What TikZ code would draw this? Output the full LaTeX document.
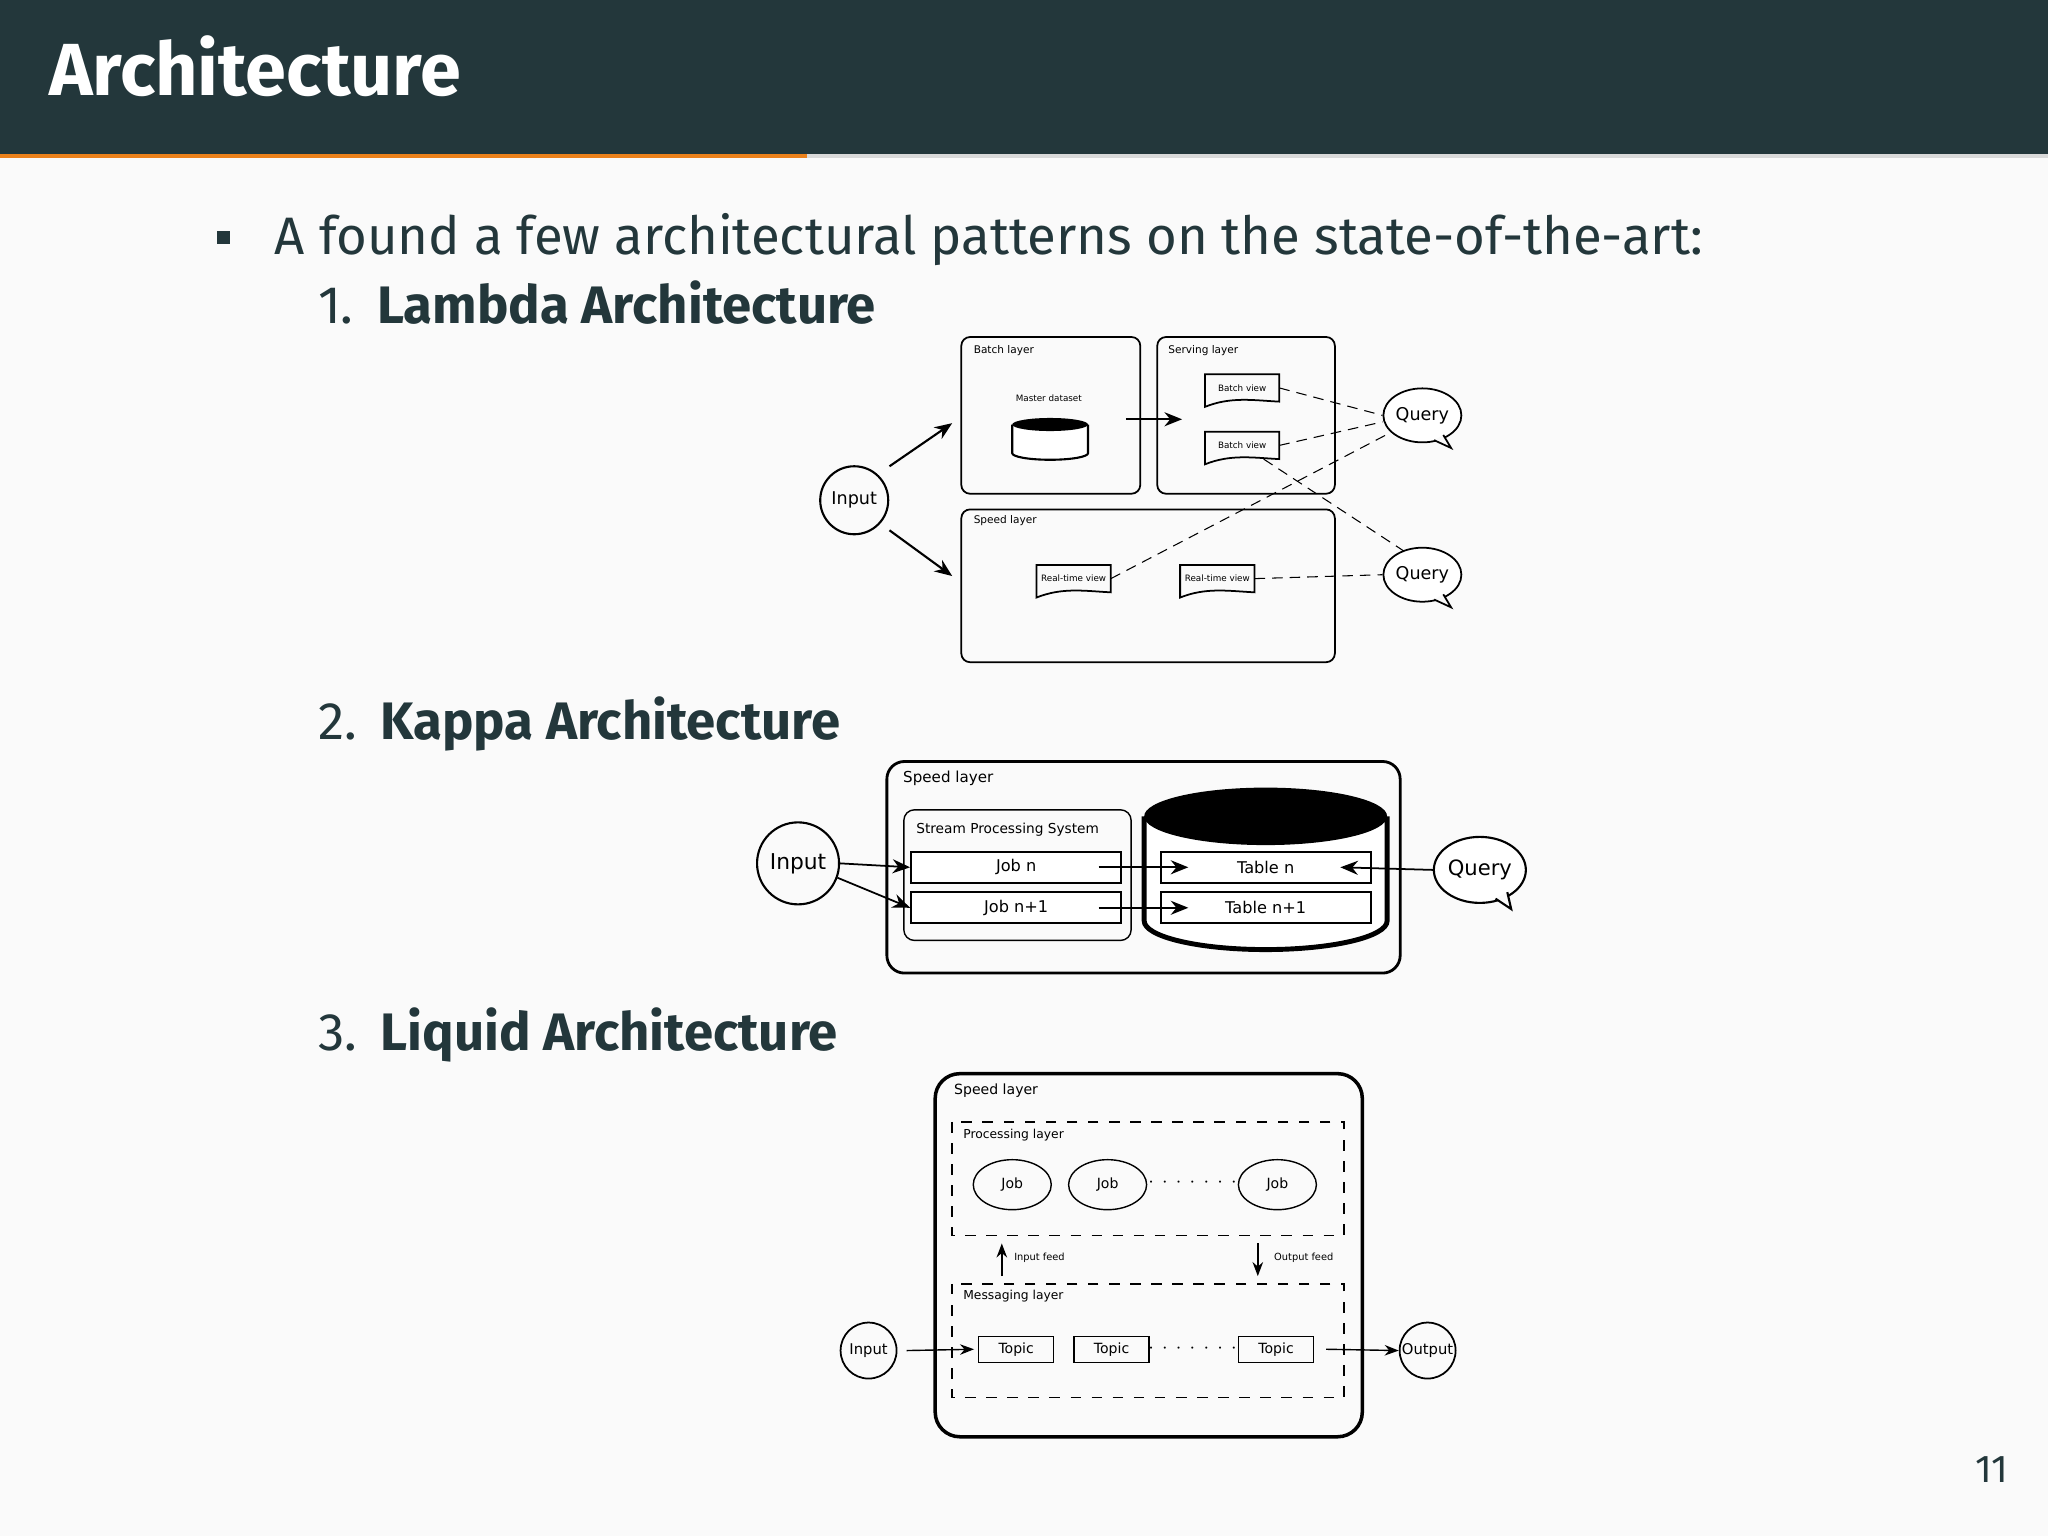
\documentclass[tikz,border=0pt]{standalone}
\usepackage{fontspec}
\setmainfont{Fira Sans}
\newfontfamily\djf{DejaVu Sans}
\usetikzlibrary{arrows.meta,shapes.geometric,calc}
\definecolor{mdark}{HTML}{23373B}
\definecolor{morange}{HTML}{EB811B}
\definecolor{mbg}{HTML}{FAFAFA}
\newcommand{\fs}[1]{\fontsize{#1}{#1}\selectfont}
\begin{document}
\begin{tikzpicture}[x=0.1306mm,y=-0.1306mm,
  lbl/.style={anchor=base west,inner sep=0pt,font=\djf\fs{3}},
  bubble/.style={ellipse,draw,fill=white,inner sep=0pt},
  arr/.style={-{Stealth[length=5pt,width=4pt]},line width=0.6pt},
  darr/.style={densely dashed,line width=0.3pt},
  bx/.style={draw,rounded corners=2.5pt,line width=0.5pt}]
\useasboundingbox (0,0) rectangle (1568,1176);
\fill[mbg] (0,0) rectangle (1568,1176);
% header
\fill[mdark] (0,0) rectangle (1568,118);
\fill[black!15] (0,118) rectangle (1568,121);
\fill[morange] (0,118) rectangle (618,121);
\node[anchor=base west,inner sep=0pt,text=white,font=\bfseries\fs{21}] (title) at (37,73) {Architecture};
\fill[mdark] (166,177) rectangle (176,187);
\node[anchor=base west,inner sep=0pt,text=mdark,font=\fs{15}] (intro) at (210,195) {A found a few architectural patterns on the state-of-the-art:};
\node[anchor=base west,inner sep=0pt,text=mdark,font=\fs{15}] (n1) at (243,248) {1.\hspace{0.45em}\textbf{Lambda Architecture}};
\node[anchor=base west,inner sep=0pt,text=mdark,font=\fs{15}] (n2) at (243,566) {2.\hspace{0.45em}\textbf{Kappa Architecture}};
\node[anchor=base west,inner sep=0pt,text=mdark,font=\fs{15}] (n3) at (243,804) {3.\hspace{0.45em}\textbf{Liquid Architecture}};
\node[anchor=base east,inner sep=0pt,text=mdark,font=\fs{11}] (pg) at (1538,1135) {11};

% ===== Lambda =====
\draw[bx] (736,258) rectangle (873,378);
\draw[bx] (886,258) rectangle (1022,378);
\draw[bx] (736,390) rectangle (1022,507);
\node[lbl] (bl) at (745,271) {Batch layer};
\node[lbl] (sl) at (894,271) {Serving layer};
\node[lbl] (spl) at (745,401) {Speed layer};
\node[inner sep=0pt,font=\djf\fs{2.5}] (md) at (803,305) {Master dataset};
\draw[line width=0.6pt,fill=white] (775,325) -- (775,347) arc (180:0:29 and 5) -- (833,325);
\fill (804,325) ellipse (29 and 5);
\node[circle,draw,line width=0.6pt,minimum size=6.8mm,inner sep=0pt,font=\djf\fs{5}] (in1) at (654,383) {Input};
\coordinate (a1s) at (681,357); \coordinate (a1e) at (729,324);
\coordinate (a2s) at (681,406); \coordinate (a2e) at (729,441);
\coordinate (a3s) at (862,321); \coordinate (a3e) at (905,321);
\draw[arr] (a1s) -- (a1e);
\draw[arr] (a2s) -- (a2e);
\draw[arr] (a3s) -- (a3e);
\foreach \n/\x/\y/\t in {bv1/951/297/Batch view,bv2/951/341/Batch view,rt1/822/443/Real-time view,rt2/932/443/Real-time view}{
  \node[minimum width=7.3mm,minimum height=2.6mm,inner sep=0pt,font=\djf\fs{2.5}] (\n) at (\x,\y) {\t};
  \draw[line width=0.5pt] (\n.south west) -- (\n.north west) -- (\n.north east) -- (\n.south east)
     .. controls ($(\n.south east)+(-20,-1)$) and ($(\n.south west)+(20,-4)$) .. ($(\n.south west)+(0,4)$) -- cycle;
}
\node[bubble,line width=0.5pt,minimum width=7.8mm,minimum height=5.4mm,font=\djf\fs{5}] (q1) at (1089,318) {Query};
\node[bubble,line width=0.5pt,minimum width=7.8mm,minimum height=5.4mm,font=\djf\fs{5}] (q2) at (1089,440) {Query};
\foreach \q in {q1,q2}{
  \draw[line width=0.5pt,fill=mbg] ($(\q.center)+(9,19)$) -- ($(\q.center)+(22,25)$) -- ($(\q.center)+(16,15)$);
}
\draw[darr] (bv1.east) -- (q1.west);
\draw[darr] (bv2.east) -- ($(q1.west)+(0,5)$);
\draw[darr] (rt1.east) -- ($(q1.center)+(-24,13)$);
\draw[darr] ($(bv2.south east)+(-12,0)$) -- ($(q2.center)+(-14,-18)$);
\draw[darr] (rt2.east) -- (q2.west);

% ===== Kappa =====
\draw[draw,rounded corners=5pt,line width=0.8pt] (679,583) rectangle (1072,745);
\node[anchor=base west,inner sep=0pt,font=\djf\fs{4.3}] (ksl) at (691,599) {Speed layer};
\draw[rounded corners=3pt,line width=0.4pt] (692,620) rectangle (866,720);
\node[anchor=base west,inner sep=0pt,font=\djf\fs{3.9}] (sps) at (701,638) {Stream Processing System};
\draw[line width=1.4pt,fill=white] (876,625) -- (876,705) arc (180:0:93 and 22) -- (1062,625);
\fill (969,625) ellipse (93 and 22);
\foreach \n/\x/\y/\t in {jn/778/664/Job n,jn1/778/695/Job n+1,tn/969/664/Table n,tn1/969/695/Table n+1}{
  \node[draw,line width=0.6pt,fill=white,minimum width=21mm,minimum height=3.1mm,inner sep=0pt,font=\djf\fs{4.6}] (\n) at (\x,\y) {\t};
}
\node[circle,draw,line width=0.6pt,minimum size=8.2mm,inner sep=0pt,font=\djf\fs{6.2}] (in2) at (611,661) {Input};
\node[bubble,line width=0.6pt,minimum width=9.2mm,minimum height=6.6mm,font=\djf\fs{6}] (q3) at (1133,666) {Query};
\draw[line width=0.6pt,fill=mbg] ($(q3.center)+(12,22)$) -- ($(q3.center)+(24,30)$) -- ($(q3.center)+(21,17)$);
\draw[arr,line width=0.5pt] (in2.east) -- (jn.west);
\draw[arr,line width=0.5pt] ($(in2.east)+(-2,11)$) -- (jn1.west);
\draw[arr,line width=0.5pt] ($(jn.east)+(-18,0)$) -- ($(tn.west)+(22,0)$);
\draw[arr,line width=0.5pt] ($(jn1.east)+(-18,0)$) -- ($(tn1.west)+(22,0)$);
\draw[arr,line width=0.5pt] (q3.west) -- ($(tn.east)+(-24,0)$);

% ===== Liquid =====
\draw[rounded corners=7pt,line width=1pt] (716,822) rectangle (1043,1100);
\node[anchor=base west,inner sep=0pt,font=\djf\fs{4}] (lsl) at (730,838) {Speed layer};
\draw[dashed,line width=0.4pt] (729,859) rectangle (1029,946);
\node[anchor=base west,inner sep=0pt,font=\djf\fs{3.5}] (pl) at (737,872) {Processing layer};
\draw[dashed,line width=0.4pt] (729,983) rectangle (1029,1070);
\node[anchor=base west,inner sep=0pt,font=\djf\fs{3.5}] (ml) at (737,995) {Messaging layer};
\foreach \n/\x in {j1/775,j2/848,j3/978}{
  \node[ellipse,draw,line width=0.4pt,minimum width=7.8mm,minimum height=5mm,inner sep=0pt,font=\djf\fs{4}] (\n) at (\x,907) {Job};
}
\foreach \n/\x in {t1/778,t2/851,t3/977}{
  \node[draw,line width=0.4pt,minimum width=7.5mm,minimum height=2.6mm,inner sep=0pt,font=\djf\fs{4}] (\n) at (\x,1033) {Topic};
}
\node[font=\djf\fs{4}] (d1) at (913,905) {$\cdot\cdot\cdot\cdot\cdot\cdot\cdot$};
\node[font=\djf\fs{4}] (d2) at (913,1032) {$\cdot\cdot\cdot\cdot\cdot\cdot\cdot$};
\coordinate (if1) at (767,977); \coordinate (if2) at (767,952);
\coordinate (of1) at (963,952); \coordinate (of2) at (963,977);
\draw[arr,line width=0.4pt,-{Stealth[length=4pt,width=3pt]}] (if1) -- (if2);
\draw[arr,line width=0.4pt,-{Stealth[length=4pt,width=3pt]}] (of1) -- (of2);
\node[anchor=west,inner sep=0pt,font=\djf\fs{2.8}] (ifl) at (776,963) {Input feed};
\node[anchor=west,inner sep=0pt,font=\djf\fs{2.8}] (ofl) at (975,963) {Output feed};
\node[circle,draw,line width=0.5pt,minimum size=5.6mm,inner sep=0pt,font=\djf\fs{4.2}] (in3) at (665,1034) {Input};
\node[circle,draw,line width=0.5pt,minimum size=5.6mm,inner sep=0pt,font=\djf\fs{4.2}] (out3) at (1093,1034) {Output};
\draw[arr,line width=0.4pt,-{Stealth[length=4pt,width=3pt]}] ($(in3.east)+(7,0)$) -- ($(t1.west)+(-3,0)$);
\draw[arr,line width=0.4pt,-{Stealth[length=4pt,width=3pt]}] ($(t3.east)+(9,0)$) -- (out3.west);
\end{tikzpicture}
\end{document}
